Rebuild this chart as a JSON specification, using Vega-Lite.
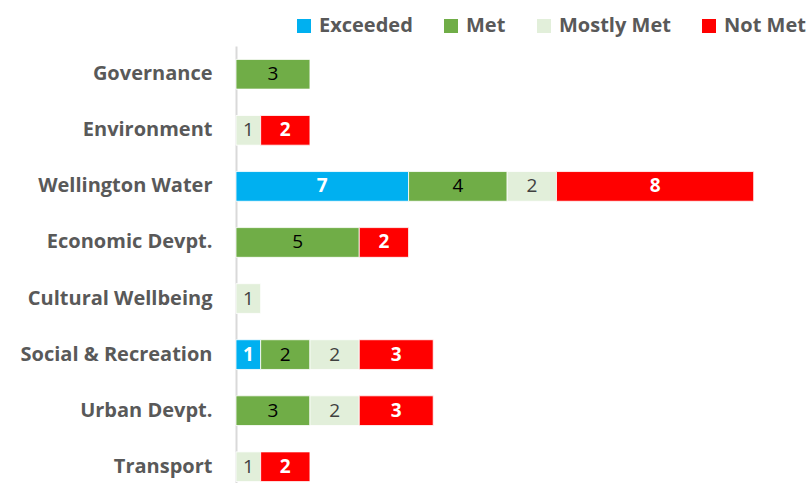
{
  "$schema": "https://vega.github.io/schema/vega-lite/v6.json",
  "width": 567,
  "height": 437,
  "autosize": {"type": "none"},
  "padding": {"left": 236, "top": 46, "right": 8, "bottom": 0},
  "background": "white",
  "config": {
    "view": {"stroke": null},
    "font": "Open Sans"
  },
  "data": {
    "values": [
      {"area": "Governance", "status": "Met", "count": 3},
      {"area": "Environment", "status": "Mostly Met", "count": 1},
      {"area": "Environment", "status": "Not Met", "count": 2},
      {"area": "Wellington Water", "status": "Exceeded", "count": 7},
      {"area": "Wellington Water", "status": "Met", "count": 4},
      {"area": "Wellington Water", "status": "Mostly Met", "count": 2},
      {"area": "Wellington Water", "status": "Not Met", "count": 8},
      {"area": "Economic Devpt.", "status": "Met", "count": 5},
      {"area": "Economic Devpt.", "status": "Not Met", "count": 2},
      {"area": "Cultural Wellbeing", "status": "Mostly Met", "count": 1},
      {"area": "Social & Recreation", "status": "Exceeded", "count": 1},
      {"area": "Social & Recreation", "status": "Met", "count": 2},
      {"area": "Social & Recreation", "status": "Mostly Met", "count": 2},
      {"area": "Social & Recreation", "status": "Not Met", "count": 3},
      {"area": "Urban Devpt.", "status": "Met", "count": 3},
      {"area": "Urban Devpt.", "status": "Mostly Met", "count": 2},
      {"area": "Urban Devpt.", "status": "Not Met", "count": 3},
      {"area": "Transport", "status": "Mostly Met", "count": 1},
      {"area": "Transport", "status": "Not Met", "count": 2}
    ]
  },
  "transform": [
    {"stack": "count", "groupby": ["area"], "sort": [{"field": "status", "order": "ascending"}], "as": ["x0", "x1"]},
    {"calculate": "(datum.x0 + datum.x1) / 2", "as": "xmid"}
  ],
  "encoding": {
    "y": {
      "field": "area",
      "type": "nominal",
      "sort": ["Governance", "Environment", "Wellington Water", "Economic Devpt.", "Cultural Wellbeing", "Social & Recreation", "Urban Devpt.", "Transport"],
      "scale": {"range": [0, 449], "paddingInner": 0.47, "paddingOuter": 0.239},
      "axis": {
        "title": null,
        "ticks": false,
        "labelFont": "Open Sans",
        "labelFontWeight": "bold",
        "labelFontSize": 20,
        "labelColor": "#595959",
        "labelPadding": 24,
        "labelLimit": 300,
        "domainColor": "#d9d9d9",
        "domainWidth": 2,
        "grid": false
      }
    }
  },
  "layer": [
    {
      "mark": {"type": "bar", "stroke": "white", "strokeWidth": 0.8},
      "encoding": {
        "x": {"field": "x0", "type": "quantitative", "scale": {"domain": [0, 23], "nice": false}, "axis": null},
        "x2": {"field": "x1"},
        "color": {
          "field": "status",
          "type": "nominal",
          "scale": {"domain": ["Exceeded", "Met", "Mostly Met", "Not Met"], "range": ["#00B0F0", "#70AD47", "#E2EFDA", "#FF0000"]},
          "legend": {
            "title": null,
            "orient": "none",
            "direction": "horizontal",
            "legendX": 58,
            "legendY": -30,
            "symbolType": "square",
            "symbolSize": 196,
            "symbolStrokeWidth": 0,
            "symbolOpacity": 1,
            "labelFont": "Open Sans",
            "labelFontSize": 20,
            "labelFontWeight": "bold",
            "labelColor": "#595959",
            "labelOffset": 5,
            "labelLimit": 300,
            "columnPadding": 28,
            "padding": 0
          }
        }
      }
    },
    {
      "transform": [{"filter": "datum.status === 'Exceeded' || datum.status === 'Not Met'"}],
      "mark": {"type": "text", "font": "Open Sans", "fontSize": 19, "fontWeight": "bold", "color": "white", "baseline": "middle", "align": "center"},
      "encoding": {
        "x": {"field": "xmid", "type": "quantitative"},
        "text": {"field": "count", "type": "quantitative"}
      }
    },
    {
      "transform": [{"filter": "datum.status === 'Met' || datum.status === 'Mostly Met'"}],
      "mark": {"type": "text", "font": "Open Sans", "fontSize": 19, "baseline": "middle", "align": "center"},
      "encoding": {
        "x": {"field": "xmid", "type": "quantitative"},
        "text": {"field": "count", "type": "quantitative"},
        "color": {"condition": {"test": "datum.status === 'Met'", "value": "#000000"}, "value": "#404040"}
      }
    }
  ]
}
